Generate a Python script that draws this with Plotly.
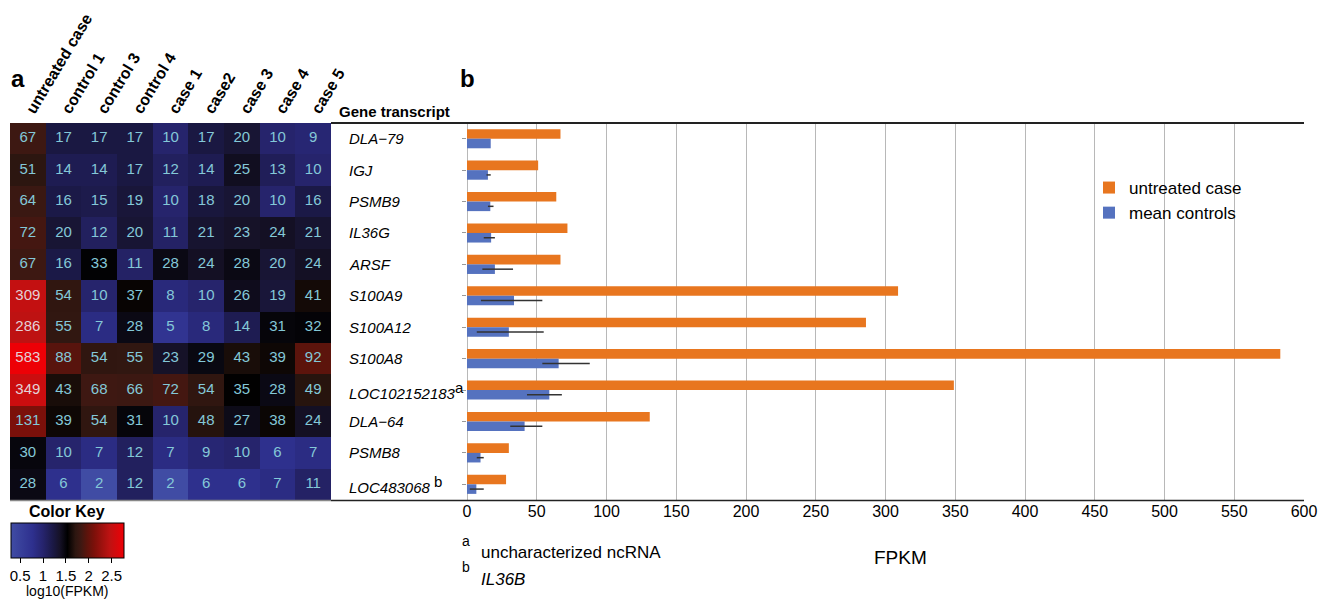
import numpy as np
import plotly.graph_objects as go

W, H = 1330, 607

samples = ["untreated case", "control 1", "control 3", "control 4", "case 1",
           "case2", "case 3", "case 4", "case 5"]
genes = ["DLA\u221279", "IGJ", "PSMB9", "IL36G", "ARSF", "S100A9", "S100A12",
         "S100A8", "LOC102152183", "DLA\u221264", "PSMB8", "LOC483068"]
SUP = '<sup><span style="font-size:15px">{}</span></sup>'
gene_labels = ["<i>DLA\u221279</i>", "<i>IGJ</i>", "<i>PSMB9</i>", "<i>IL36G</i>",
               "<i>ARSF</i>", "<i>S100A9</i>", "<i>S100A12</i>", "<i>S100A8</i>",
               "<i>LOC102152183</i>" + SUP.format("a"), "<i>DLA\u221264</i>",
               "<i>PSMB8</i>", "<i>LOC483068</i> " + SUP.format("b")]

# FPKM per gene (rows) x sample (columns)
fpkm = [
    [67, 17, 17, 17, 10, 17, 20, 10, 9],
    [51, 14, 14, 17, 12, 14, 25, 13, 10],
    [64, 16, 15, 19, 10, 18, 20, 10, 16],
    [72, 20, 12, 20, 11, 21, 23, 24, 21],
    [67, 16, 33, 11, 28, 24, 28, 20, 24],
    [309, 54, 10, 37, 8, 10, 26, 19, 41],
    [286, 55, 7, 28, 5, 8, 14, 31, 32],
    [583, 88, 54, 55, 23, 29, 43, 39, 92],
    [349, 43, 68, 66, 72, 54, 35, 28, 49],
    [131, 39, 54, 31, 10, 48, 27, 38, 24],
    [30, 10, 7, 12, 7, 9, 10, 6, 7],
    [28, 6, 2, 12, 2, 6, 6, 7, 11],
]

untreated_case = [67, 51, 64, 72, 67, 309, 286, 583, 349, 131, 30, 28]
mean_controls = [17, 15, 16.7, 17.3, 20, 33.7, 30, 65.7, 59, 41.3, 9.7, 6.7]
err_low = [17, 14, 15, 12, 11, 10, 7, 54, 43, 31, 7, 2]
err_high = [17, 17, 19, 20, 33, 54, 55, 88, 68, 54, 12, 12]

x_ticks = [0, 50, 100, 150, 200, 250, 300, 350, 400, 450, 500, 550, 600]
key_ticks = [0.5, 1, 1.5, 2, 2.5]

FONT = "Arial, Liberation Sans, sans-serif"


def px(xp):
    return xp / W


def py(yp):
    return 1 - yp / H


z = np.log10(np.array(fpkm, dtype=float))
zmin, zmax = 0.3, 2.77

colorscale = [
    [0.0, "rgb(64,76,164)"],
    [0.19, "rgb(46,48,142)"],
    [0.28, "rgb(38,36,110)"],
    [0.377, "rgb(26,24,66)"],
    [0.43, "rgb(22,18,40)"],
    [0.5, "rgb(0,0,0)"],
    [0.57, "rgb(44,22,16)"],
    [0.62, "rgb(62,24,18)"],
    [0.67, "rgb(90,20,12)"],
    [0.737, "rgb(124,16,10)"],
    [0.874, "rgb(190,18,18)"],
    [1.0, "rgb(238,0,6)"],
]

fig = go.Figure()

fig.add_trace(go.Heatmap(
    z=z, x=list(range(len(samples))), y=list(range(len(genes))),
    zmin=zmin, zmax=zmax, colorscale=colorscale,
    xaxis="x", yaxis="y", hoverinfo="skip",
    colorbar=dict(
        orientation="h", x=px(11), xanchor="left", y=py(523), yanchor="top",
        len=113 / W, lenmode="fraction", thickness=35, thicknessmode="pixels",
        xpad=0, ypad=0, outlinewidth=1, outlinecolor="black",
        tickvals=key_ticks, ticktext=[str(t) for t in key_ticks],
        ticks="outside", ticklen=5, tickcolor="black",
        tickfont=dict(size=15, color="black", family=FONT),
    ),
))

tx, ty, tt, tc = [], [], [], []
for i, row in enumerate(fpkm):
    for j, v in enumerate(row):
        tx.append(j)
        ty.append(i)
        tt.append(str(v))
        tc.append("#E4D0D6" if v > 250 else "#84C8D8")
fig.add_trace(go.Scatter(
    x=tx, y=ty, text=tt, mode="text", xaxis="x", yaxis="y",
    textfont=dict(size=15, color=tc, family=FONT), hoverinfo="skip",
    showlegend=False,
))

fig.add_trace(go.Bar(
    y=genes, x=untreated_case, orientation="h", name="untreated case",
    marker=dict(color="#E8761F", line=dict(width=0)),
    xaxis="x2", yaxis="y2", legendgroup="g1",
))
fig.add_trace(go.Bar(
    y=genes, x=mean_controls, orientation="h", name="mean controls",
    marker=dict(color="#5572BF", line=dict(width=0)),
    error_x=dict(type="data", symmetric=False,
                 array=[h - m for h, m in zip(err_high, mean_controls)],
                 arrayminus=[m - l for l, m in zip(err_low, mean_controls)],
                 color="#333333", thickness=1.5, width=0),
    xaxis="x2", yaxis="y2", legendgroup="g2",
))

y_dom = [py(500), py(123)]

fig.update_layout(
    width=W, height=H, margin=dict(l=0, r=0, t=0, b=0, autoexpand=False),
    paper_bgcolor="white", plot_bgcolor="white",
    font=dict(family=FONT, color="black"),
    barmode="group", bargap=0.39, bargroupgap=0,
    xaxis=dict(domain=[px(10), px(331)], range=[-0.5, 8.5], side="top",
               tickvals=list(range(len(samples))), ticktext=samples,
               tickangle=-59, ticks="", ticklen=0, showgrid=False, zeroline=False,
               tickfont=dict(size=16, weight="bold", family=FONT, color="black"),
               anchor="y", fixedrange=True),
    yaxis=dict(domain=y_dom, range=[len(genes) - 0.5, -0.5], showticklabels=False,
               showgrid=False, zeroline=False, ticks="", anchor="x"),
    xaxis2=dict(domain=[px(467), px(1304)], range=[0, 600], tickvals=x_ticks,
                showgrid=True, gridcolor="#b8b8b8", gridwidth=1,
                zeroline=True, zerolinecolor="#b8b8b8", zerolinewidth=1,
                showline=False, ticks="", anchor="y2",
                tickfont=dict(size=16, family=FONT, color="black")),
    yaxis2=dict(domain=y_dom, autorange="reversed", showticklabels=False,
                ticks="outside", ticklen=4, tickcolor="#999999", showgrid=False,
                zeroline=False, anchor="x2"),
    legend=dict(x=px(1089), y=py(170), xanchor="left", yanchor="top",
                bgcolor="rgba(0,0,0,0)", font=dict(size=17, family=FONT),
                traceorder="grouped", tracegroupgap=0),
)

shapes = [
    dict(type="line", xref="paper", yref="paper", x0=px(331), x1=px(1304),
         y0=py(123), y1=py(123), line=dict(color="#222222", width=2)),
    dict(type="line", xref="paper", yref="paper", x0=px(331), x1=px(1304),
         y0=py(500.5), y1=py(500.5), line=dict(color="#222222", width=1.5)),
    dict(type="line", xref="paper", yref="paper", x0=px(10), x1=px(331),
         y0=py(500.5), y1=py(500.5), line=dict(color="#888888", width=1.5)),
]
fig.update_layout(shapes=shapes)

ann = []
for g, lab in zip(genes, gene_labels):
    ann.append(dict(x=px(347), y=g, xref="paper", yref="y2", text=lab,
                    xanchor="left", yanchor="middle",
                    font=dict(size=15)))
ann += [
    dict(x=px(337), y=py(112), text="<b>Gene transcript</b>", xanchor="left",
         yanchor="middle", font=dict(size=15)),
    dict(x=px(9), y=py(78), text="<b>a</b>", xanchor="left", yanchor="middle",
         font=dict(size=24)),
    dict(x=px(458), y=py(78), text="<b>b</b>", xanchor="left", yanchor="middle",
         font=dict(size=24)),
    dict(x=px(67), y=py(511), text="<b>Color Key</b>", xanchor="center",
         yanchor="middle", font=dict(size=16)),
    dict(x=px(67), y=py(591), text="log10(FPKM)", xanchor="center",
         yanchor="middle", font=dict(size=14)),
    dict(x=px(466), y=py(541), text="a", xanchor="center", yanchor="middle",
         font=dict(size=14)),
    dict(x=px(479), y=py(552), text="uncharacterized ncRNA", xanchor="left",
         yanchor="middle", font=dict(size=17)),
    dict(x=px(466), y=py(567), text="b", xanchor="center", yanchor="middle",
         font=dict(size=14)),
    dict(x=px(479), y=py(579), text="<i>IL36B</i>", xanchor="left",
         yanchor="middle", font=dict(size=17)),
    dict(x=px(900), y=py(557), text="FPKM", xanchor="center", yanchor="middle",
         font=dict(size=19)),
]
for a in ann:
    a.setdefault("xref", "paper")
    a.setdefault("yref", "paper")
    a["showarrow"] = False
    a["font"] = dict(family=FONT, color="black", size=a["font"]["size"])
fig.update_layout(annotations=ann)

fig.write_html("out.html", config={"responsive": False, "displayModeBar": False},
               post_script="document.body.style.margin='0';"
                           "document.body.style.overflow='hidden';")
